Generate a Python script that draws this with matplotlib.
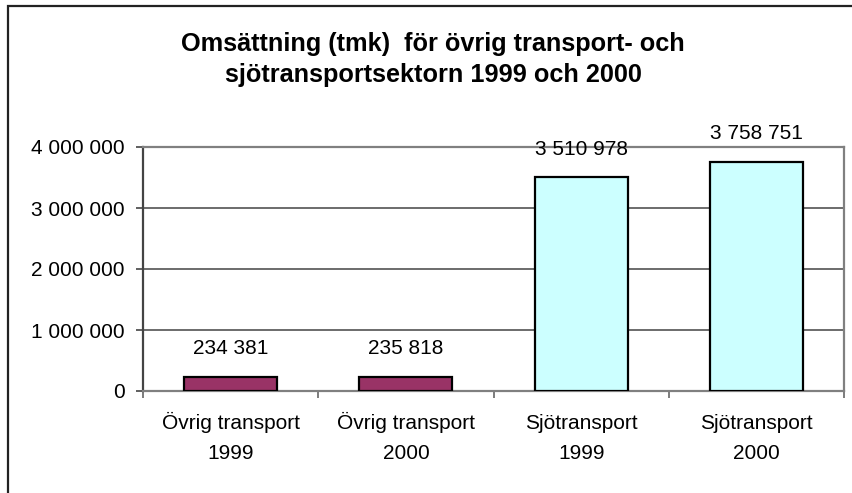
import matplotlib.pyplot as plt
from matplotlib.patches import Rectangle
from matplotlib.ticker import FuncFormatter

categories = ["Övrig transport", "Övrig transport", "Sjötransport", "Sjötransport"]
years = ["1999", "2000", "1999", "2000"]
values = [234381, 235818, 3510978, 3758751]
bar_colors = ["#993366", "#993366", "#CCFFFF", "#CCFFFF"]
y_ticks = [0, 1000000, 2000000, 3000000, 4000000]

title = "Omsättning (tmk)  för övrig transport- och\nsjötransportsektorn 1999 och 2000"


def space_thousands(v, pos=None):
    return f"{int(v):,}".replace(",", " ")


def main():
    plt.rcParams["font.family"] = ["Liberation Sans", "DejaVu Sans"]

    fig = plt.figure(figsize=(8.52, 4.93), dpi=100)

    # chart frame (right and bottom edges fall outside the picture)
    fig.patches.append(
        Rectangle(
            (7.5 / 852, -0.1),
            1.1,
            1.1 - 6.5 / 493,
            transform=fig.transFigure,
            fill=False,
            edgecolor="#222222",
            linewidth=1.6
        )
    )

    ax = fig.add_axes([143 / 852, 102 / 493, 701 / 852, 244 / 493])

    x = list(range(len(categories)))
    ax.bar(
        x,
        values,
        width=0.53,
        color=bar_colors,
        edgecolor="black",
        linewidth=1.6,
        zorder=3
    )

    for xi, v in zip(x, values):
        ax.annotate(
            space_thousands(v),
            (xi, v),
            xytext=(0, 20),
            textcoords="offset points",
            ha="center",
            va="center",
            fontsize=15,
            zorder=4
        )

    # category labels, two lines each, baseline aligned
    for xi, cat, yr in zip(x, categories, years):
        for text, dy in [(cat, -27.5), (yr, -49)]:
            ax.annotate(
                text,
                (xi, 0),
                xycoords=("data", "axes fraction"),
                xytext=(0, dy),
                textcoords="offset points",
                ha="center",
                va="baseline",
                fontsize=15,
                annotation_clip=False
            )

    ax.set_xlim(-0.5, len(categories) - 0.5)
    ax.set_ylim(0, 4000000)
    ax.set_yticks(y_ticks)
    ax.yaxis.set_major_formatter(FuncFormatter(space_thousands))

    ax.set_xticks([i + 0.5 for i in range(-1, len(categories))])
    ax.set_xticklabels([])
    ax.tick_params(axis="x", length=5, width=1.2, color="#666666", direction="out")
    ax.tick_params(axis="y", labelsize=15, length=5, width=1.2, color="#444444", pad=8)

    ax.grid(axis="y", color="#444444", linewidth=1.1, zorder=0)
    ax.set_axisbelow(True)

    for side in ["top", "right", "bottom"]:
        ax.spines[side].set_color("#808080")
        ax.spines[side].set_linewidth(1.6)
    ax.spines["left"].set_color("#444444")
    ax.spines["left"].set_linewidth(1.6)

    fig.text(
        433 / 852,
        1 - 59.5 / 493,
        title,
        ha="center",
        va="center",
        fontsize=18.2,
        fontweight="bold",
        linespacing=1.4
    )

    fig.savefig("out.png", dpi=100)
    plt.close(fig)


if __name__ == "__main__":
    main()
